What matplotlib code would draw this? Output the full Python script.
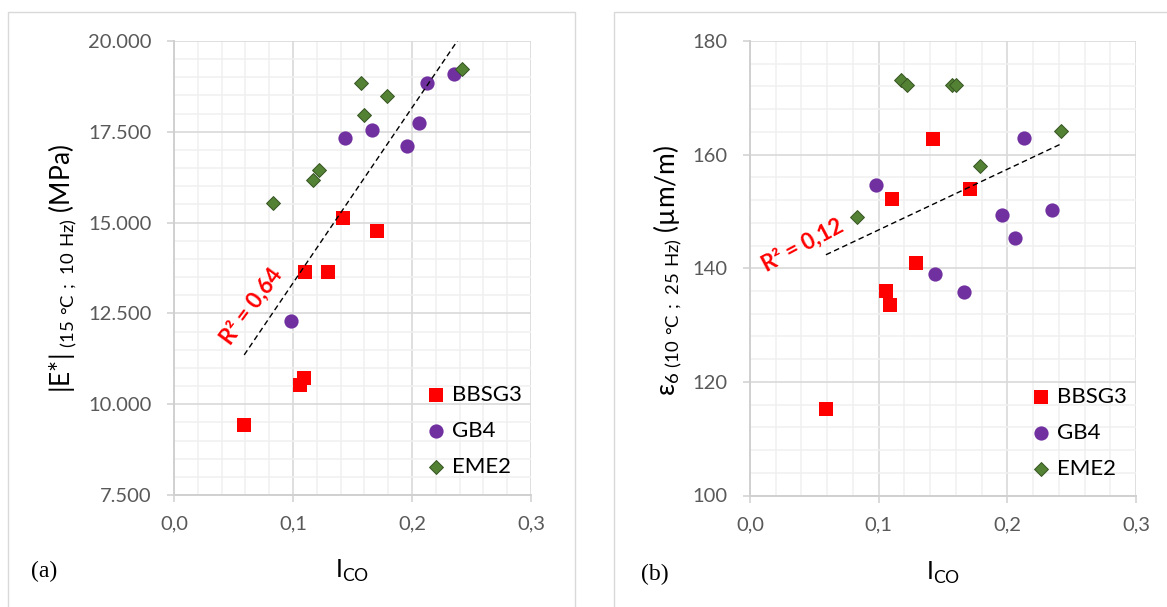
import numpy as np
import matplotlib
matplotlib.use("Agg")
import matplotlib.pyplot as plt
from matplotlib.patches import Rectangle
from matplotlib.ticker import FuncFormatter, MultipleLocator

plt.rcParams['font.family'] = ['Lato', 'DejaVu Sans']
plt.rcParams['mathtext.fontset'] = 'custom'
plt.rcParams['mathtext.rm'] = 'Lato'
plt.rcParams['mathtext.fallback'] = 'stixsans'

# I_CO per mix (same specimens in both panels)
x_bbsg3 = [0.059, 0.106, 0.109, 0.110, 0.129, 0.142, 0.171]
x_gb4 = [0.098, 0.144, 0.166, 0.196, 0.206, 0.213, 0.235]
x_eme2 = [0.083, 0.117, 0.122, 0.157, 0.160, 0.179, 0.242]

# panel (a): |E*| (MPa)
e_bbsg3 = [9430, 10515, 10730, 13630, 13630, 15130, 14760]
e_gb4 = [12300, 17330, 17550, 17100, 17740, 18850, 19090]
e_eme2 = [15550, 16170, 16450, 18830, 17960, 18480, 19230]

# panel (b): eps6 (um/m)
s_bbsg3 = [115.2, 136.0, 133.5, 152.2, 141.0, 162.7, 154.0]
s_gb4 = [154.7, 138.9, 135.9, 149.4, 145.4, 163.0, 150.3]
s_eme2 = [149.0, 173.2, 172.2, 172.2, 172.2, 158.0, 164.2]

r2_labels = ['R² = 0,64', 'R² = 0,12']

fig = plt.figure(figsize=(11.67, 6.07), dpi=100)

W, H = 1167.0, 607.0
# panel frames
fig.patches.append(Rectangle((8 / W, -0.01), (575 - 8) / W, 1 - 11.6 / H + 0.01,
                             transform=fig.transFigure, fill=False,
                             edgecolor='#d9d9d9', lw=1))
fig.patches.append(Rectangle((614 / W, -0.01), 0.5, 1 - 11.6 / H + 0.01,
                             transform=fig.transFigure, fill=False,
                             edgecolor='#d9d9d9', lw=1))

ax1 = fig.add_axes([174 / W, 1 - 495 / H, 357 / W, 454 / H])
ax2 = fig.add_axes([750 / W, 1 - 495.5 / H, 386 / W, 454.5 / H])

grey = '#595959'


def style(ax, ylim, ymaj, ymin, yfmt):
    ax.set_xlim(0, 0.3)
    ax.set_ylim(*ylim)
    ax.xaxis.set_major_locator(MultipleLocator(0.1))
    ax.xaxis.set_minor_locator(MultipleLocator(0.02))
    ax.yaxis.set_major_locator(MultipleLocator(ymaj))
    ax.yaxis.set_minor_locator(MultipleLocator(ymin))
    ax.grid(which='major', color='#d9d9d9', lw=1.2, zorder=0)
    ax.grid(which='minor', color='#f0f0f0', lw=1.1, zorder=0)
    ax.set_axisbelow(True)
    for s in ['top', 'right']:
        ax.spines[s].set_visible(False)
    for s in ['left', 'bottom']:
        ax.spines[s].set_color('#d0d0d0')
        ax.spines[s].set_linewidth(1.4)
    ax.tick_params(which='major', length=5, width=1.1, color='#d0d0d0',
                   labelsize=14.5, labelcolor=grey)
    ax.tick_params(axis='y', pad=11)
    ax.tick_params(axis='x', pad=10)
    ax.tick_params(which='minor', length=0)
    ax.xaxis.set_major_formatter(FuncFormatter(lambda v, p: f'{v:.1f}'.replace('.', ',')))
    ax.yaxis.set_major_formatter(FuncFormatter(yfmt))


def draw(ax, yb, yg, ye, anchor):
    ax.scatter(x_bbsg3, yb, marker='s', s=106, color='#ff0000', lw=0, label='BBSG3', zorder=3)
    ax.scatter(x_gb4, yg, marker='o', s=105, color='#7030a0', lw=0, label='GB4', zorder=3)
    ax.scatter(x_eme2, ye, marker='D', s=50, color='#548235', edgecolor='#375623',
               lw=0.7, label='EME2', zorder=3)
    xs = np.array(x_bbsg3 + x_gb4 + x_eme2)
    ys = np.array(yb + yg + ye)
    k, b = np.polyfit(xs, ys, 1)
    xx = np.array([xs.min(), xs.max()])
    ax.plot(xx, k * xx + b, color='black', lw=1.0, ls=(0, (4, 2.5)), zorder=4)
    ax.legend(loc='upper left', bbox_to_anchor=anchor, frameon=False,
              fontsize=16, handlelength=0.8, handletextpad=0.3,
              labelspacing=0.71, borderpad=0, borderaxespad=0)


style(ax1, (7500, 20000), 2500, 500, lambda v, p: f'{v:,.0f}'.replace(',', '.'))
style(ax2, (100, 180), 20, 4, lambda v, p: f'{v:.0f}')
draw(ax1, e_bbsg3, e_gb4, e_eme2, (0.709, 0.242))
draw(ax2, s_bbsg3, s_gb4, s_eme2, (0.731, 0.238))

ax1.text(0.0652, 12700, r2_labels[0], color='#ff0000', fontsize=16, fontweight='bold',
         rotation=53.5, rotation_mode='anchor', ha='center', va='center', zorder=5)
ax2.text(0.041, 144.1, r2_labels[1], color='#ff0000', fontsize=16, fontweight='bold',
         rotation=28, rotation_mode='anchor', ha='center', va='center', zorder=5)

# axis titles
fig.text(352.5 / W, 1 - 571 / H, r'I$_{\mathregular{CO}}$', fontsize=18, ha='center', va='center')
fig.text(943 / W, 1 - 573 / H, r'I$_{\mathregular{CO}}$', fontsize=18, ha='center', va='center')
fig.text(63 / W, 1 - 268 / H, r'|E*|$_{\mathregular{\ (15\ °C\ ;\ 10\ Hz)}}$ (MPa)',
         fontsize=19, rotation=90, ha='center', va='center')
fig.text(668 / W, 1 - 270 / H, r'ε$_{\mathregular{6\ (10\ °C\ ;\ 25\ Hz)}}$ (µm/m)',
         fontsize=19, rotation=90, ha='center', va='center')

# panel letters
fig.text(44 / W, 1 - 571 / H, '(a)', fontsize=17, family='Liberation Serif', ha='center', va='center')
fig.text(655 / W, 1 - 574 / H, '(b)', fontsize=17, family='Liberation Serif', ha='center', va='center')

fig.savefig('out.png', dpi=100)
